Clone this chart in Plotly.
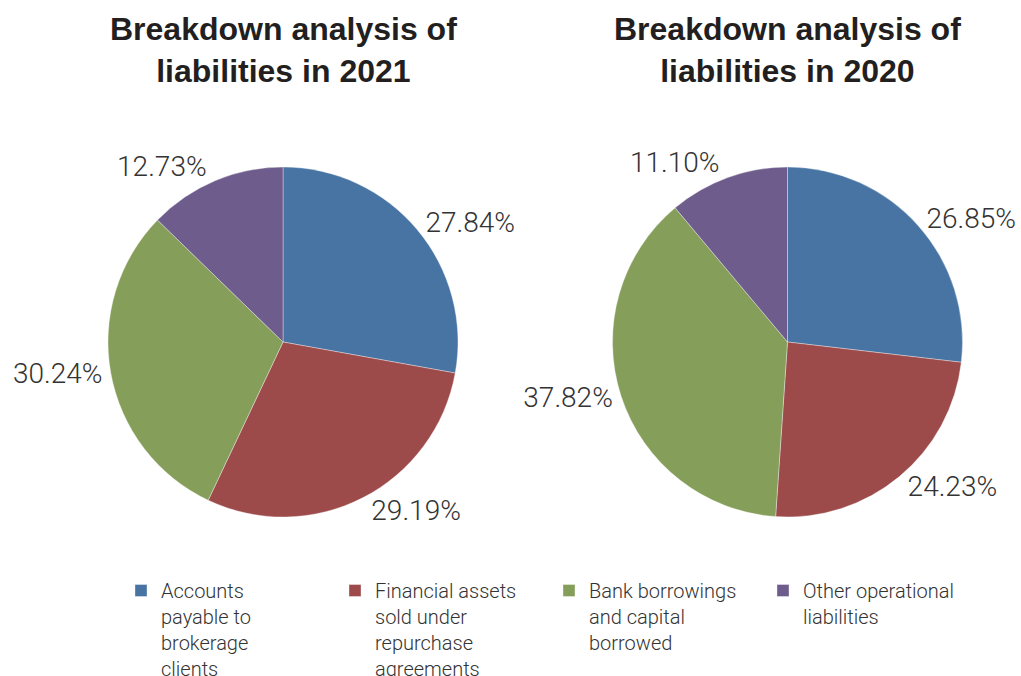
import plotly.graph_objects as go

# Liability categories (legend order = clockwise slice order from 12 o'clock)
categories = [
    "Accounts<br>payable to<br>brokerage<br>clients",
    "Financial assets<br>sold under<br>repurchase<br>agreements",
    "Bank borrowings<br>and capital<br>borrowed",
    "Other operational<br>liabilities",
]
share_2021 = [27.84, 29.19, 30.24, 12.73]
share_2020 = [26.85, 24.23, 37.82, 11.10]
titles = ["Breakdown analysis of<br>liabilities in 2021",
          "Breakdown analysis of<br>liabilities in 2020"]
colors = ["#4774a3", "#9d4a4b", "#859e5a", "#6e5d8c"]

W, H = 1021, 676
R = 175
centers = [(283, 342), (787.5, 342)]

LIGHT = "Roboto, Liberation Sans, Arial, sans-serif"
LABEL_FONT = dict(family=LIGHT, size=28, color="#333333", weight=300)

fig = go.Figure()
for i, (vals, (cx, cy)) in enumerate(zip([share_2021, share_2020], centers)):
    fig.add_trace(go.Pie(
        labels=categories,
        values=vals,
        sort=False,
        direction="clockwise",
        rotation=0,
        texttemplate="%{value:.2f}%",
        textposition="outside",
        textfont=LABEL_FONT,
        marker=dict(colors=colors, line=dict(color="rgba(255,255,255,0.6)", width=0.6)),
        hoverinfo="label+value",
        showlegend=(i == 0),
        domain=dict(x=[(cx - R) / W, (cx + R) / W],
                    y=[(H - cy - R) / H, (H - cy + R) / H]),
    ))
    fig.add_annotation(
        text=f"<b>{titles[i]}</b>",
        x=cx / W, y=(H - 50) / H, xref="paper", yref="paper",
        xanchor="center", yanchor="middle", showarrow=False,
        font=dict(family="Liberation Sans, Arial, sans-serif", size=32, color="#231f20"),
    )

fig.update_layout(
    width=W, height=H,
    margin=dict(l=0, r=0, t=0, b=0, autoexpand=False),
    paper_bgcolor="white", plot_bgcolor="white",
    legend=dict(
        orientation="h",
        x=121 / W, xanchor="left",
        y=(H - 571) / H, yanchor="top",
        font=dict(family=LIGHT, size=20, color="#333333", weight=300),
        entrywidth=169, entrywidthmode="pixels",
        traceorder="normal",
        valign="top",
    ),
)

fig.write_html("out.html")
